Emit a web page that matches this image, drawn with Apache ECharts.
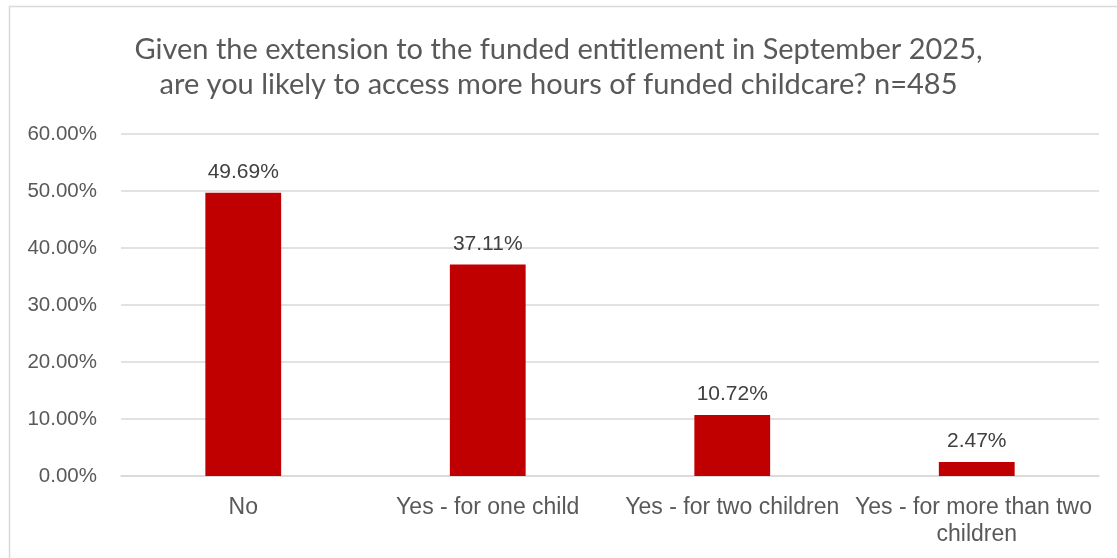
<!DOCTYPE html>
<html>
<head>
<meta charset="utf-8">
<script src="https://cdn.jsdelivr.net/npm/echarts@6/dist/echarts.min.js"></script>
<style>
  html, body { margin: 0; padding: 0; background: #ffffff; }
  #chart { width: 1117px; height: 558px; }
</style>
</head>
<body>
<div id="chart"></div>
<script>
// Survey answers (n=485) and the share choosing each, in percent
const categories = ['No', 'Yes - for one child', 'Yes - for two children', 'Yes - for more than two children'];
const shares = [49.69, 37.11, 10.72, 2.47];
const titleLines = [
  'Given the extension to the funded entitlement in September 2025,',
  'are you likely to access more hours of funded childcare? n=485'
];

const chart = echarts.init(document.getElementById('chart'), null, { renderer: 'canvas' });

chart.setOption({
  backgroundColor: '#ffffff',
  animation: false,
  title: {
    text: titleLines.join('\n'),
    left: 'center',
    top: 27,
    textStyle: {
      fontFamily: 'Lato, "Liberation Sans", sans-serif',
      fontWeight: 'normal',
      fontSize: 29,
      lineHeight: 35,
      color: '#595959'
    }
  },
  graphic: [{
    type: 'rect',
    silent: true,
    shape: { x: 9.5, y: 6.5, width: 1200, height: 600 },
    style: { fill: 'none', stroke: '#d9d9d9', lineWidth: 1.5 }
  }],
  grid: { left: 121, right: 18, top: 134, bottom: 82, containLabel: false },
  xAxis: {
    type: 'category',
    data: categories,
    axisLine: { show: true, lineStyle: { color: '#d9d9d9', width: 1.5 } },
    axisTick: { show: false },
    axisLabel: {
      interval: 0,
      margin: 18,
      width: 250,
      overflow: 'break',
      lineHeight: 27,
      fontFamily: '"Liberation Sans", Arial, sans-serif',
      fontSize: 23,
      color: '#595959'
    }
  },
  yAxis: {
    type: 'value',
    min: 0,
    max: 60,
    interval: 10,
    axisLine: { show: false },
    axisTick: { show: false },
    splitLine: { lineStyle: { color: '#d9d9d9', width: 1.5 } },
    axisLabel: {
      margin: 24,
      formatter: v => v.toFixed(2) + '%',
      fontFamily: '"Liberation Sans", Arial, sans-serif',
      fontSize: 20.5,
      color: '#595959'
    }
  },
  series: [{
    type: 'bar',
    data: shares,
    barWidth: '31%',
    itemStyle: { color: '#c00000' },
    label: {
      show: true,
      position: 'top',
      distance: 10,
      formatter: p => p.value.toFixed(2) + '%',
      fontFamily: '"Liberation Sans", Arial, sans-serif',
      fontSize: 21,
      color: '#404040'
    }
  }]
});
</script>
</body>
</html>
